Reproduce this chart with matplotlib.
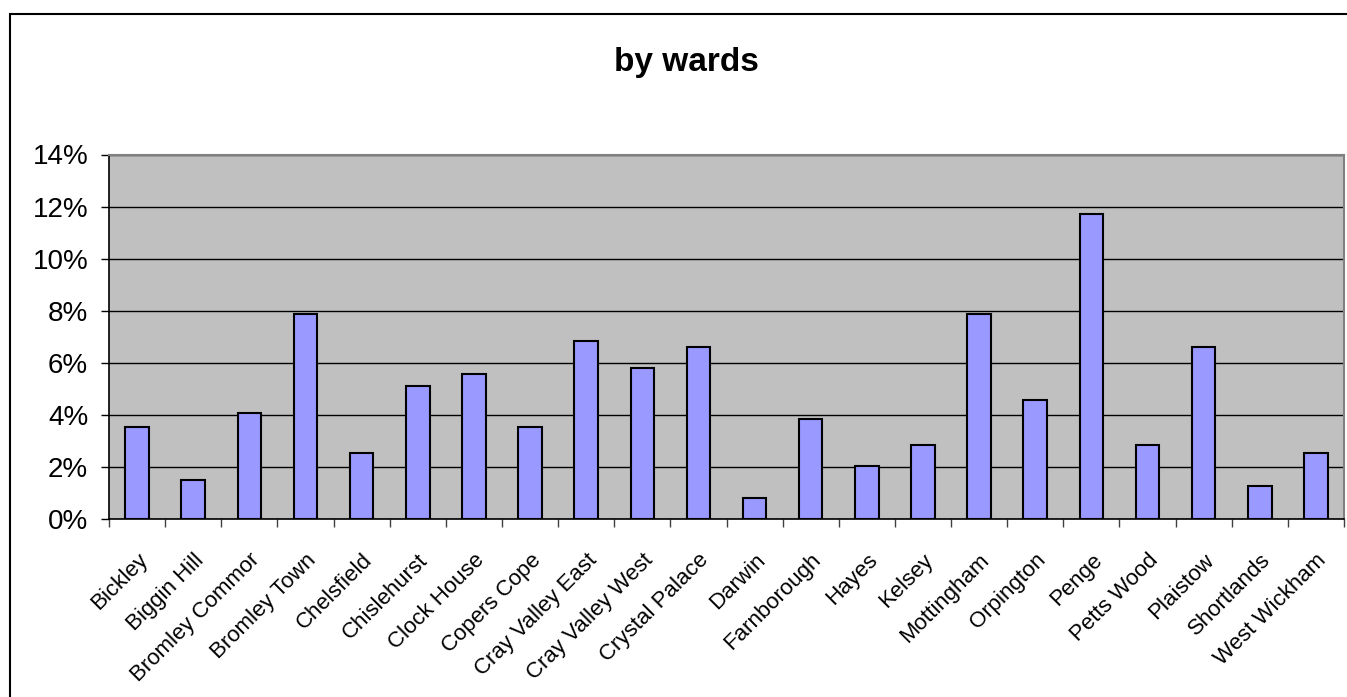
import matplotlib
matplotlib.use('Agg')
import matplotlib.pyplot as plt
import matplotlib.patches as mpatches
from matplotlib.ticker import FixedLocator, PercentFormatter
import numpy as np

plt.rcParams['font.family'] = ['Liberation Sans', 'DejaVu Sans']

wards = ['Bickley', 'Biggin Hill', 'Bromley Commor', 'Bromley Town', 'Chelsfield',
         'Chislehurst', 'Clock House', 'Copers Cope', 'Cray Valley East',
         'Cray Valley West', 'Crystal Palace', 'Darwin', 'Farnborough', 'Hayes',
         'Kelsey', 'Mottingham', 'Orpington', 'Penge', 'Petts Wood', 'Plaistow',
         'Shortlands', 'West Wickham']
share = [3.54, 1.50, 4.08, 7.86, 2.52, 5.11, 5.57, 3.54, 6.83, 5.81, 6.60,
         0.79, 3.85, 2.05, 2.84, 7.86, 4.57, 11.71, 2.84, 6.60, 1.27, 2.52]

fig = plt.figure(figsize=(13.47, 6.97), dpi=100)
ax = fig.add_axes([109 / 1347, 1 - 519 / 697, 1235 / 1347, (519 - 154.5) / 697])

# outer chart border (right and bottom edges fall outside the picture)
fig.patches.append(mpatches.Rectangle((10 / 1347, -0.05), 1.2, 1 - 14 / 697 + 0.05,
                                      transform=fig.transFigure, fill=False,
                                      edgecolor='black', linewidth=1.5))

x = np.arange(len(wards))
ax.set_facecolor('#c0c0c0')
ax.bar(x, share, width=0.42, color='#9999ff', edgecolor='black', linewidth=1.5, zorder=3)

ax.set_xlim(-0.5, len(wards) - 0.5)
ax.set_ylim(0, 14)
ax.set_yticks(np.arange(0, 15, 2))
ax.yaxis.set_major_formatter(PercentFormatter(decimals=0))
ax.grid(axis='y', color='black', linewidth=1, zorder=1)

ax.set_xticks(x)
ax.set_xticklabels(wards, rotation=45, ha='right', rotation_mode='anchor', fontsize=16)
ax.tick_params(axis='x', which='major', length=0, pad=22)
ax.xaxis.set_minor_locator(FixedLocator(np.arange(-0.5, len(wards), 1)))
ax.tick_params(axis='x', which='minor', length=6, width=1, color='#404040')
ax.tick_params(axis='y', length=6, width=1, labelsize=20, pad=9)

for s in ['top', 'right']:
    ax.spines[s].set_color('#808080')
    ax.spines[s].set_linewidth(1.5)
for s in ['left', 'bottom']:
    ax.spines[s].set_color('black')
    ax.spines[s].set_linewidth(1.2)
ax.spines['bottom'].set_zorder(4)

fig.text(686 / 1347, 1 - 62 / 697, 'by wards', ha='center', va='center',
         fontsize=24, fontweight='bold')

fig.savefig('out.png', dpi=100)
